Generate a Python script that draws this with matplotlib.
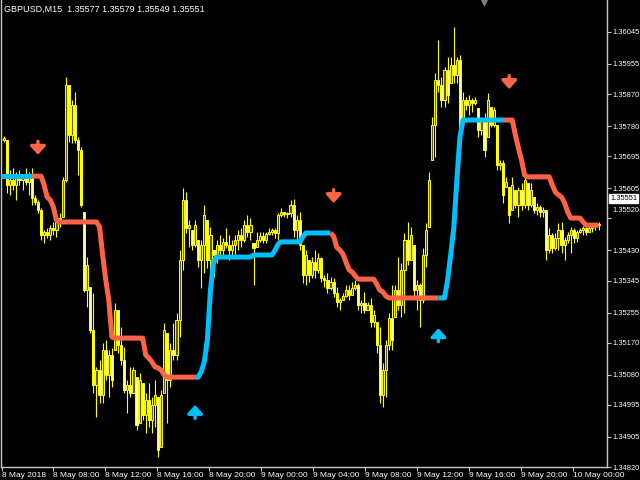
import numpy as np
import matplotlib.pyplot as plt
from matplotlib.transforms import blended_transform_factory, ScaledTranslation

plt.rcParams['font.family'] = ['Liberation Sans', 'DejaVu Sans']

# Data: GBPUSD M15, prices kept in points (0.00001) above 1.34800
base_price = 1.34800
point = 0.00001

highs = [975, 952, 941, 856, 862, 851, 856, 842, 862, 851,
         862, 786, 772, 749, 687, 693, 701, 710, 735, 735,
         837, 1118, 1096, 1053, 1076, 949, 921, 738, 611, 527,
         510, 302, 321, 369, 378, 349, 355, 482, 462, 414,
         358, 265, 302, 302, 273, 285, 256, 228, 256, 217,
         265, 217, 237, 425, 397, 369, 425, 454, 631, 806,
         794, 715, 687, 715, 659, 659, 758, 715, 696, 631,
         659, 673, 665, 693, 673, 659, 673, 687, 693, 715,
         730, 721, 651, 682, 682, 682, 682, 693, 693, 693,
         735, 749, 738, 738, 772, 775, 730, 738, 645, 631,
         603, 611, 631, 623, 611, 561, 566, 555, 552, 527,
         496, 510, 532, 532, 541, 547, 538, 490, 513, 485,
         496, 462, 428, 414, 313, 378, 454, 532, 532, 611,
         594, 679, 710, 696, 645, 547, 538, 637, 707, 851,
         1006, 1129, 1222, 1118, 1146, 1174, 1174, 1259, 1174, 1180,
         1076, 1062, 1067, 1059, 1062, 1031, 1006, 1017, 1073, 1034,
         1034, 983, 884, 884, 837, 808, 837, 800, 808, 820,
         851, 820, 820, 780, 763, 758, 752, 744, 693, 679,
         679, 707, 710, 668, 682, 696, 693, 687, 693, 699,
         696, 701, 704, 707, 710]

lows = [921, 935, 792, 786, 800, 772, 814, 800, 814, 786,
        758, 758, 735, 659, 651, 665, 659, 673, 668, 696,
        724, 822, 935, 932, 932, 842, 752, 513, 471, 397,
        228, 161, 200, 200, 265, 217, 245, 349, 341, 307,
        228, 172, 217, 228, 124, 144, 152, 116, 133, 116,
        133, 48, 76, 228, 144, 245, 321, 321, 386, 575,
        679, 639, 631, 639, 583, 524, 566, 580, 555, 555,
        594, 608, 617, 637, 603, 611, 617, 631, 639, 654,
        668, 659, 532, 639, 654, 651, 651, 673, 673, 665,
        659, 724, 724, 721, 724, 668, 651, 631, 538, 532,
        541, 552, 552, 566, 541, 527, 510, 518, 499, 471,
        462, 490, 499, 490, 504, 518, 462, 454, 454, 462,
        414, 414, 341, 200, 189, 217, 349, 349, 442, 462,
        442, 454, 589, 603, 499, 462, 414, 482, 583, 696,
        884, 893, 1076, 1034, 1034, 1045, 1101, 1101, 1101, 941,
        997, 1025, 1011, 1020, 1039, 949, 955, 893, 949, 977,
        977, 856, 856, 763, 808, 707, 744, 749, 724, 744,
        749, 744, 752, 735, 730, 724, 724, 603, 623, 623,
        631, 631, 623, 603, 651, 623, 651, 654, 679, 673,
        673, 682, 682, 687, 687]

closes = [941, 946, 814, 828, 814, 834, 828, 837, 822, 842,
          777, 766, 744, 673, 682, 673, 693, 687, 721, 715,
          828, 1096, 955, 1039, 941, 913, 758, 518, 589, 406,
          251, 293, 223, 349, 279, 335, 265, 462, 364, 321,
          237, 251, 228, 293, 138, 265, 166, 209, 152, 195,
          223, 68, 223, 406, 265, 349, 335, 434, 603, 772,
          693, 701, 645, 701, 603, 645, 730, 603, 673, 617,
          645, 631, 654, 645, 631, 645, 659, 673, 659, 701,
          682, 701, 637, 659, 670, 659, 676, 682, 687, 679,
          730, 738, 732, 735, 758, 687, 715, 645, 561, 617,
          561, 597, 575, 608, 552, 547, 524, 541, 510, 485,
          490, 501, 518, 504, 524, 532, 476, 482, 462, 476,
          428, 448, 364, 223, 293, 364, 440, 378, 518, 476,
          575, 659, 603, 673, 518, 532, 490, 617, 687, 828,
          983, 1110, 1096, 1053, 1138, 1067, 1152, 1124, 1166, 969,
          1053, 1039, 1053, 1045, 1053, 969, 997, 913, 1053, 983,
          1025, 870, 876, 786, 822, 730, 814, 758, 800, 758,
          828, 758, 800, 744, 752, 738, 744, 631, 673, 637,
          665, 687, 645, 659, 673, 687, 665, 682, 687, 693,
          682, 693, 699, 701, 704]

# stepped trend indicator, one value per bar
trend_line = ([839] * 14 + [814, 780, 772, 752, 715] + [710] * 13 +
              [696, 617, 547, 490, 386] + [383] * 10 +
              [335, 327, 316, 302, 299, 293, 279] + [273] * 11 +
              [288, 316, 378, 518, 597] + [611] * 12 + [617] * 7 +
              [631, 648] + [654] * 7 + [668] + [679] * 9 +
              [670, 639, 631, 620, 597, 575, 569, 558] + [549] * 6 +
              [535, 518, 513, 501] + [496] * 19 +
              [547, 617, 693, 828, 949] + [997] * 17 +
              [955, 918, 884, 842] + [837] * 8 +
              [814, 794, 786, 780, 763, 738] + [721] * 4 + [710] + [701] * 5)
trend_starts = [0, 10, 63, 107, 142, 163]
trend_up = [True, False, True, False, True, False]

# signal arrows (bar index, arrow tip level in points)
sell_bars = [12, 108, 165]
sell_tips = [899, 763, 1084]
buy_bars = [63, 142]
buy_tips = [195, 411]

price_ticks = [1.36045, 1.35955, 1.35870, 1.35780, 1.35695, 1.35605, 1.35520,
               1.35430, 1.35345, 1.35255, 1.35170, 1.35080, 1.34995, 1.34905, 1.34820]
time_labels = ['8 May 2018', '8 May 08:00', '8 May 12:00', '8 May 16:00', '8 May 20:00',
               '9 May 00:00', '9 May 04:00', '9 May 08:00', '9 May 12:00', '9 May 16:00',
               '9 May 20:00', '10 May 00:00']
time_ticks = [0.3, 16.9, 33.8, 50.6, 67.5, 84.4, 101.3, 118.2, 135.1, 151.9, 168.8, 185.7]
header = 'GBPUSD,M15  1.35577 1.35579 1.35549 1.35551'
last_price = 1.35551

UP_COLOR = '#00bfff'
DOWN_COLOR = '#ff6347'
CANDLE = '#ffff00'
LABEL_SIZE = 6
PRICE_SIZE = 5.4


def to_price(values):
    return base_price + np.asarray(values, dtype=float) * point


hi = to_price(highs)
lo = to_price(lows)
cl = to_price(closes)
op = np.clip(np.r_[cl[0], cl[:-1]], lo, hi)
line = to_price(trend_line)
x = np.arange(len(cl))

fig = plt.figure(figsize=(6.4, 4.8), dpi=100, facecolor='black')
ax = fig.add_axes([1 / 640, 13 / 480, 606 / 640, 467 / 480], facecolor='black')

# candles
ax.vlines(x, lo, hi, color=CANDLE, lw=0.8, zorder=2)
bull = cl >= op
body_bottom = np.minimum(op, cl)
body_height = np.maximum(np.abs(cl - op), 0.5 * point)
faces = np.where(bull, '#5e5e00', '#ffffa0')
ax.bar(x, body_height, bottom=body_bottom, width=0.7, color=faces,
       edgecolor=CANDLE, linewidth=0.7, zorder=3)

# trend line, coloured by direction
ends = trend_starts[1:] + [len(line) - 1]
for start, end, up in zip(trend_starts, ends, trend_up):
    ax.plot(x[start:end + 1], line[start:end + 1], color=UP_COLOR if up else DOWN_COLOR,
            lw=3.6, solid_capstyle='butt', solid_joinstyle='round', zorder=4)

# arrows
arrow_len = 38 * point
for b, tip in zip(sell_bars, to_price(sell_tips)):
    ax.annotate('', xy=(b, tip), xytext=(b, tip + arrow_len),
                arrowprops=dict(arrowstyle='-|>,head_width=0.45,head_length=0.5',
                                color=DOWN_COLOR, lw=2.4, shrinkA=0, shrinkB=0,
                                mutation_scale=10), zorder=5)
for b, tip in zip(buy_bars, to_price(buy_tips)):
    ax.annotate('', xy=(b, tip), xytext=(b, tip - arrow_len),
                arrowprops=dict(arrowstyle='-|>,head_width=0.45,head_length=0.5',
                                color=UP_COLOR, lw=2.4, shrinkA=0, shrinkB=0,
                                mutation_scale=10), zorder=5)

ax.set_xlim(0, 196.75)
ax.set_ylim(1.34820, 1.36135)

# axes look
ax.spines['top'].set_visible(False)
for side in ['left', 'right', 'bottom']:
    ax.spines[side].set_color('#c8c8c8')
    ax.spines[side].set_linewidth(1.0)

ax.yaxis.tick_right()
ax.set_yticks(price_ticks)
ax.set_yticklabels([f'{p:.5f}' for p in price_ticks])
ax.tick_params(axis='y', colors='#c8c8c8', labelcolor='white', length=3,
               width=0.8, labelsize=PRICE_SIZE, pad=1)
# the label next to the price box is pushed up, as the terminal does
bump = ScaledTranslation(0, 9 / 100, fig.dpi_scale_trans)
for label in ax.get_yticklabels():
    if label.get_text() == '1.35520':
        label.set_transform(label.get_transform() + bump)

ax.set_xticks(time_ticks)
ax.set_xticklabels(time_labels, ha='left')
ax.tick_params(axis='x', colors='#c8c8c8', labelcolor='white', length=3,
               width=0.8, labelsize=LABEL_SIZE, pad=0.5)

# header and last-price box
fig.text(4 / 640, 1 - 9 / 480, header, color='white', fontsize=LABEL_SIZE + 0.5,
         va='center', ha='left')
trans = blended_transform_factory(ax.transAxes, ax.transData) + bump
ax.text(1.005, last_price, '1.35551', transform=trans, ha='left', va='center',
        fontsize=PRICE_SIZE, color='black', zorder=6, clip_on=False,
        bbox=dict(boxstyle='square,pad=0.1', facecolor='white', edgecolor='white'))

# chart shift marker
ax.plot([0.797], [0.995], marker='v', color='#808080', markersize=5,
        transform=ax.transAxes, clip_on=False)

fig.savefig('out.png', dpi=100, facecolor='black')
